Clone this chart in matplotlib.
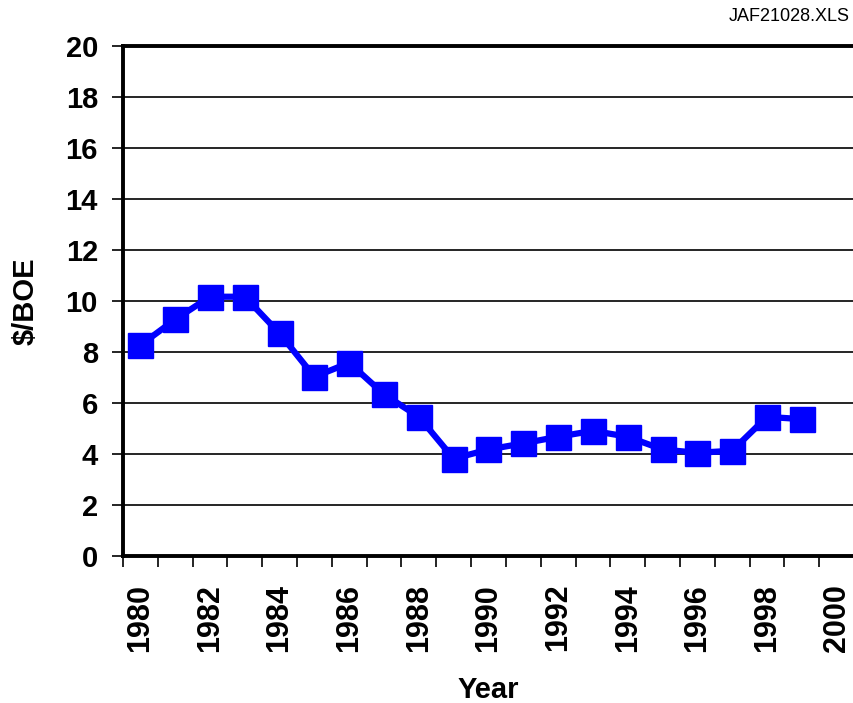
import matplotlib
matplotlib.use("Agg")
import matplotlib.pyplot as plt
import numpy as np

# valores ($/BOE por ano)
anos = [1980, 1981, 1982, 1983, 1984, 1985, 1986, 1987, 1988, 1989,
        1990, 1991, 1992, 1993, 1994, 1995, 1996, 1997, 1998, 1999]
custo = [8.27, 9.28, 10.17, 10.17, 8.73, 7.03, 7.58, 6.34, 5.46, 3.82,
         4.18, 4.42, 4.68, 4.91, 4.68, 4.18, 4.05, 4.13, 5.46, 5.37]
rotulos_x = [1980, 1982, 1984, 1986, 1988, 1990, 1992, 1994, 1996, 1998, 2000]
ticks_y = [0, 2, 4, 6, 8, 10, 12, 14, 16, 18, 20]

plt.rcParams['font.family'] = ['Liberation Sans', 'DejaVu Sans']

fig = plt.figure(figsize=(8.54, 7.03), dpi=100)
ax = fig.add_axes([0.144, 0.209, 0.856, 0.7255])

cor = "#0000FF"
ax.plot(anos, custo, color=cor, linewidth=4.5, marker='s', markersize=18,
        markerfacecolor=cor, markeredgecolor=cor, zorder=3)

ax.set_xlim(1979.5, 2000.5)
ax.set_ylim(0, 20)

ax.set_yticks(ticks_y)
ax.set_yticklabels([str(v) for v in ticks_y], fontsize=21, fontweight='bold')
ax.yaxis.grid(True, color='black', linewidth=1.2)
ax.set_axisbelow(True)

# rotulos nos anos pares, marcas nas divisas das categorias
ax.set_xticks(rotulos_x)
ax.set_xticklabels([str(v) for v in rotulos_x], fontsize=22, fontweight='bold', rotation=90)
ax.set_xticks(np.arange(1979.5, 2001, 1.0), minor=True)
ax.tick_params(axis='x', which='major', length=0, pad=20)
ax.tick_params(axis='x', which='minor', length=8, width=1.2, direction='out')
ax.tick_params(axis='y', length=8, width=1.2, direction='out', pad=10)

for lado in ['left', 'bottom', 'top']:
    ax.spines[lado].set_linewidth(2.8)
    ax.spines[lado].set_color('black')
ax.spines['right'].set_visible(False)

ax.set_ylabel('$/BOE', fontsize=21, fontweight='bold', labelpad=19)
ax.set_xlabel('Year', fontsize=21, fontweight='bold', labelpad=17)

fig.text(0.995, 0.988, 'JAF21028.XLS', ha='right', va='top', fontsize=13)

fig.savefig('out.png', dpi=100)
